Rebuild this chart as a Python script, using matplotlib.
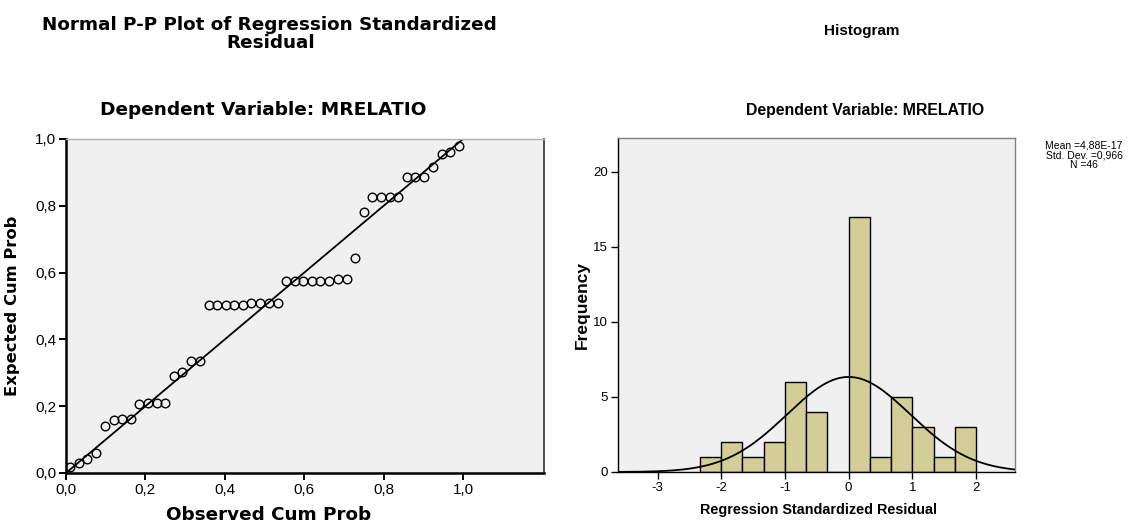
import numpy as np
import matplotlib
matplotlib.use("Agg")
import matplotlib.pyplot as plt
from matplotlib.ticker import FuncFormatter

plt.rcParams['font.family'] = ['Liberation Sans', 'DejaVu Sans']
plt.rcParams['axes.unicode_minus'] = False

# P-P plot data (observed vs expected cumulative probability, 46 cases)
observed = [0.011, 0.033, 0.054, 0.076, 0.098, 0.120, 0.141, 0.163, 0.185, 0.207,
            0.228, 0.250, 0.272, 0.293, 0.315, 0.337, 0.359, 0.380, 0.402, 0.424,
            0.446, 0.467, 0.489, 0.511, 0.533, 0.554, 0.576, 0.598, 0.620, 0.641,
            0.663, 0.685, 0.707, 0.728, 0.750, 0.772, 0.793, 0.815, 0.837, 0.859,
            0.880, 0.902, 0.924, 0.946, 0.967, 0.989]
expected = [0.017, 0.029, 0.043, 0.060, 0.141, 0.159, 0.163, 0.163, 0.206, 0.210,
            0.210, 0.210, 0.290, 0.302, 0.335, 0.335, 0.504, 0.504, 0.504, 0.504,
            0.504, 0.510, 0.510, 0.510, 0.510, 0.576, 0.576, 0.576, 0.576, 0.576,
            0.576, 0.582, 0.582, 0.645, 0.781, 0.826, 0.826, 0.826, 0.826, 0.886,
            0.886, 0.886, 0.917, 0.955, 0.961, 0.978]
pp_ticks = [0.0, 0.2, 0.4, 0.6, 0.8, 1.0]

# histogram of standardized residuals
bin_edges = [-7/3, -2, -5/3, -4/3, -1, -2/3, -1/3, 0, 1/3, 2/3, 1, 4/3, 5/3, 2]
counts = [1, 2, 1, 2, 6, 4, 0, 17, 1, 5, 3, 1, 3]
hist_xticks = [-3, -2, -1, 0, 1, 2]
hist_yticks = [0, 5, 10, 15, 20]
res_mean, res_sd, n_cases = 4.88e-17, 0.966, 46
stats_lines = ['Mean =4,88E-17', 'Std. Dev. =0,966', 'N =46']

W, H = 1129, 527
fig = plt.figure(figsize=(W / 100, H / 100), dpi=100)
bg = '#f0f0f0'
wide = ['DejaVu Sans']

def comma(v, pos):
    return f"{v:.1f}".replace('.', ',')

# ---- left: P-P plot
ax1 = fig.add_axes([66 / W, 1 - 473 / H, (544 - 66) / W, (473 - 139) / H])
ax1.set_facecolor(bg)
ax1.plot([0, 1], [0, 1], color='black', lw=1.3, zorder=2)
ax1.plot(observed, expected, 'o', ms=6.2, mfc='none', mec='black', mew=1.0, zorder=3)
ax1.set_xlim(0, 1.204)
ax1.set_ylim(0, 1.0)
ax1.set_xticks(pp_ticks)
ax1.set_yticks(pp_ticks)
ax1.xaxis.set_major_formatter(FuncFormatter(comma))
ax1.yaxis.set_major_formatter(FuncFormatter(comma))
ax1.tick_params(direction='out', length=5, width=1.4, labelsize=11, pad=2)
for s in ('left', 'bottom'):
    ax1.spines[s].set_linewidth(1.8)
ax1.spines['right'].set_linewidth(1.2)
ax1.spines['right'].set_color('#333333')
ax1.spines['top'].set_linewidth(1.0)
ax1.spines['top'].set_color('#b0b0b0')
ax1.set_xlabel('Observed Cum Prob', fontsize=13.2, fontweight='bold', family=wide)
ax1.set_ylabel('Expected Cum Prob', fontsize=11.8, fontweight='bold', family=wide)
ax1.xaxis.set_label_coords((269 - 66) / 478, -0.1)
ax1.yaxis.set_label_coords(-0.097, 0.5)

fig.text(269 / W, 1 - 29.5 / H, 'Normal P-P Plot of Regression Standardized',
         ha='center', va='baseline', fontsize=13.2, fontweight='bold', family=wide)
fig.text(271 / W, 1 - 47.5 / H, 'Residual',
         ha='center', va='baseline', fontsize=13.2, fontweight='bold', family=wide)
fig.text(263 / W, 1 - 115 / H, 'Dependent Variable: MRELATIO',
         ha='center', va='baseline', fontsize=13.3, fontweight='bold', family=wide)

# ---- right: histogram
ax2 = fig.add_axes([618 / W, 1 - 472 / H, (1015 - 618) / W, (472 - 138) / H])
ax2.set_facecolor(bg)
ax2.bar(bin_edges[:-1], counts, width=np.diff(bin_edges), align='edge',
        color='#d3ce97', edgecolor='black', lw=1.0, zorder=2)
xs = np.linspace(-3.62, 2.61, 300)
bw = bin_edges[1] - bin_edges[0]
curve = n_cases * bw * np.exp(-0.5 * ((xs - res_mean) / res_sd) ** 2) / (res_sd * np.sqrt(2 * np.pi))
ax2.plot(xs, curve, color='black', lw=1.3, zorder=3)
ax2.set_xlim(-3.62, 2.61)
ax2.set_ylim(0, 22.25)
ax2.set_xticks(hist_xticks)
ax2.set_yticks(hist_yticks)
ax2.tick_params(direction='out', length=5, width=1.0, labelsize=9.5, pad=2)
for s in ('left', 'bottom'):
    ax2.spines[s].set_linewidth(1.0)
for s in ('top', 'right'):
    ax2.spines[s].set_linewidth(1.0)
    ax2.spines[s].set_color('#808080')
ax2.set_xlabel('Regression Standardized Residual', fontsize=10.4, fontweight='bold')
ax2.set_ylabel('Frequency', fontsize=12.5, fontweight='bold')
ax2.xaxis.set_label_coords((819 - 618) / 397, -0.093)
ax2.yaxis.set_label_coords(-0.072, 0.5)

fig.text(862 / W, 1 - 35.5 / H, 'Histogram', ha='center', va='baseline',
         fontsize=11, fontweight='bold')
fig.text(865 / W, 1 - 115 / H, 'Dependent Variable: MRELATIO', ha='center', va='baseline',
         fontsize=11.4, fontweight='bold')
fig.text(1084 / W, 1 - 140 / H, '\n'.join(stats_lines), ha='center', va='top', fontsize=7.5,
         linespacing=1.0, multialignment='center')

fig.savefig('out.png', dpi=100, facecolor='white')
